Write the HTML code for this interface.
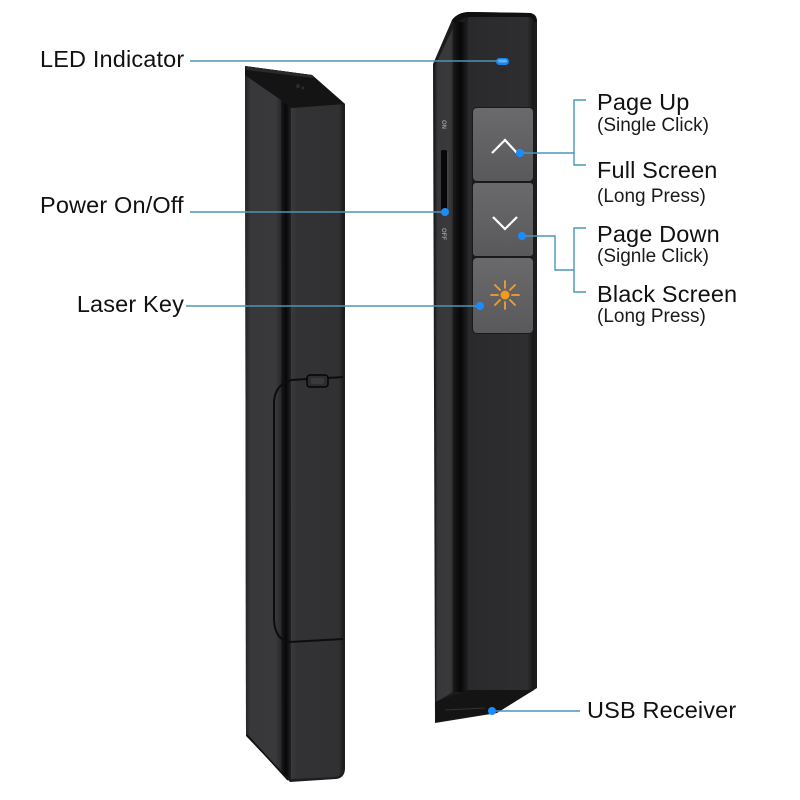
<!DOCTYPE html>
<html><head><meta charset="utf-8"><style>
html,body{margin:0;padding:0;background:#fff;}
svg{display:block;}
text{font-family:"Liberation Sans",Arial,sans-serif;fill:#111;}
.b{font-size:23.5px;letter-spacing:0.15px;}
.s{font-size:19px;fill:#1a1a1a;}
</style></head><body>
<svg width="800" height="800" viewBox="0 0 800 800" xmlns="http://www.w3.org/2000/svg">
<defs>
<linearGradient id="lf" x1="0" x2="1" y1="0" y2="0">
<stop offset="0" stop-color="#222224"/><stop offset="0.15" stop-color="#38383a"/><stop offset="0.85" stop-color="#39393b"/><stop offset="1" stop-color="#2a2a2c"/>
</linearGradient>
<linearGradient id="rf" x1="0" x2="1" y1="0" y2="0">
<stop offset="0" stop-color="#3a3a3c"/><stop offset="0.12" stop-color="#323234"/><stop offset="0.9" stop-color="#313133"/><stop offset="1" stop-color="#1a1a1a"/>
</linearGradient>
<linearGradient id="gr" x1="0" x2="1" y1="0" y2="0">
<stop offset="0" stop-color="#1a1a1a"/><stop offset="0.5" stop-color="#070707"/><stop offset="1" stop-color="#222"/>
</linearGradient>
<linearGradient id="btn" x1="0" x2="0" y1="0" y2="1">
<stop offset="0" stop-color="#6a6a6c"/><stop offset="1" stop-color="#59595b"/>
</linearGradient>
<linearGradient id="rfront" x1="0" x2="1" y1="0" y2="0">
<stop offset="0" stop-color="#2a2a2c"/><stop offset="0.9" stop-color="#2e2e30"/><stop offset="1" stop-color="#161616"/>
</linearGradient>
</defs>

<!-- LEFT PEN -->
<path d="M245,66 L312,75 L345,104 L345,768 Q345,778 336,779 L290,782 L246,736 Z" fill="#1e1e20"/>
<polygon points="245,75 281,100 281,772 246,734" fill="url(#lf)"/>
<polygon points="281,100 291,108 291,779 282,773" fill="url(#gr)"/>
<path d="M291,108 L344,104 L344,767 Q343,776 335,777 L291,779 Z" fill="url(#rf)"/>
<polygon points="245,66 312,75 345,104 291,108 281,100 245,75" fill="#141414"/>
<polygon points="245,66 312,75 313,78 247,70" fill="#2a2a2a"/>
<circle cx="298" cy="86" r="2" fill="#2c2c2c"/><circle cx="303" cy="88" r="1.5" fill="#2c2c2c"/>
<!-- cover panel line -->
<path d="M307,379 L292,380 Q275,384 274,402 L274,620 Q275,640 290,642 L343,639" fill="none" stroke="#0d0d0d" stroke-width="2"/>
<path d="M328,378 L343,377" fill="none" stroke="#0d0d0d" stroke-width="2"/>
<rect x="307" y="375" width="21" height="12" rx="3" fill="#2d2d2d" stroke="#050505" stroke-width="1.5"/>
<rect x="311" y="378" width="13" height="6" rx="2" fill="#3a3a3a"/>
<path d="M247,735 L288,780" stroke="#0d0d0d" stroke-width="1.5"/>

<!-- RIGHT PEN -->
<path d="M433,64 L452,20 Q458,12 470,12 L530,13 Q537,14 537,22 L537,688 L497,713 L435,723 Z" fill="#1c1c1e"/>
<polygon points="435,66 453,28 453,692 436,702" fill="url(#lf)"/>
<rect x="453" y="22" width="15" height="670" fill="url(#gr)"/>
<path d="M468,20 Q468,15 474,15 L529,16 Q534,16 534,22 L534,690 L468,690 Z" fill="url(#rfront)"/>
<path d="M452,20 Q458,12 470,12 L530,13 Q537,14 537,22 L534,22 Q533,17 528,17 L470,17 Q462,17 456,25 Z" fill="#101010"/>
<polygon points="435,702 468,690 534,690 497,712 436,722" fill="#141414"/>
<path d="M445,710 L485,708" stroke="#333" stroke-width="1"/>
<!-- LED -->
<rect x="496" y="58" width="13" height="7" rx="3.5" fill="#1a86e8"/>
<rect x="498" y="59.5" width="9" height="3" rx="1.5" fill="#5ab4ff"/>
<!-- switch -->
<rect x="441" y="150" width="6" height="63" rx="1.5" fill="#080808"/>
<rect x="447" y="152" width="1.5" height="59" fill="#444"/>
<text x="0" y="0" transform="translate(442,120) rotate(90)" font-size="6" style="fill:#9a9a9a;font-weight:bold">ON</text>
<text x="0" y="0" transform="translate(442,228) rotate(90)" font-size="6" style="fill:#9a9a9a;font-weight:bold">OFF</text>
<!-- buttons -->
<rect x="472" y="107" width="62" height="227" rx="5" fill="#1a1a1a"/>
<rect x="473" y="108" width="60" height="73" rx="4" fill="url(#btn)"/>
<rect x="473" y="183" width="60" height="73" rx="3" fill="url(#btn)"/>
<rect x="473" y="258" width="60" height="75" rx="4" fill="url(#btn)"/>
<polyline points="492,153 505,140 517,153" fill="none" stroke="#fff" stroke-width="2.2" stroke-linejoin="miter"/>
<polyline points="493,217 505,229 517,217" fill="none" stroke="#fff" stroke-width="2.2"/>
<g stroke="#f0a030" stroke-width="1.8" stroke-linecap="round">
<line x1="505" y1="281" x2="505" y2="288"/><line x1="505" y1="302" x2="505" y2="309"/>
<line x1="491" y1="295" x2="498" y2="295"/><line x1="512" y1="295" x2="519" y2="295"/>
<line x1="495" y1="285" x2="500" y2="290"/><line x1="510" y1="300" x2="515" y2="305"/>
<line x1="515" y1="285" x2="510" y2="290"/><line x1="500" y1="300" x2="495" y2="305"/>
</g>
<circle cx="505" cy="295" r="4.5" fill="#f39a1e"/>

<!-- CONNECTORS -->
<g stroke="#4b95b8" stroke-width="1.4" fill="none">
<line x1="190" y1="61" x2="497" y2="61"/>
<line x1="190" y1="212" x2="445" y2="212"/>
<line x1="186" y1="306" x2="480" y2="306"/>
<line x1="520" y1="153" x2="574" y2="153"/>
<polyline points="586,100 574,100 574,165 586,165"/>
<polyline points="522,236 555,236 555,270 574,270"/>
<polyline points="586,228 574,228 574,292 586,292"/>
<line x1="492" y1="711" x2="580" y2="711"/>
</g>
<g fill="#1a8cff">
<circle cx="445" cy="212" r="4"/>
<circle cx="480" cy="306" r="4"/>
<circle cx="520" cy="153" r="4"/>
<circle cx="522" cy="236" r="4"/>
<circle cx="492" cy="711" r="4"/>
</g>

<!-- LABELS -->
<text class="b" x="40" y="67">LED Indicator</text>
<text class="b" x="40" y="213">Power On/Off</text>
<text class="b" x="184" y="312" text-anchor="end">Laser Key</text>
<text class="b" x="597" y="110">Page Up</text>
<text class="s" x="597" y="131">(Single Click)</text>
<text class="b" x="597" y="178">Full Screen</text>
<text class="s" x="597" y="202">(Long Press)</text>
<text class="b" x="597" y="242">Page Down</text>
<text class="s" x="597" y="262">(Signle Click)</text>
<text class="b" x="597" y="302">Black Screen</text>
<text class="s" x="597" y="322">(Long Press)</text>
<text class="b" x="587" y="718">USB Receiver</text>
</svg>
</body></html>
